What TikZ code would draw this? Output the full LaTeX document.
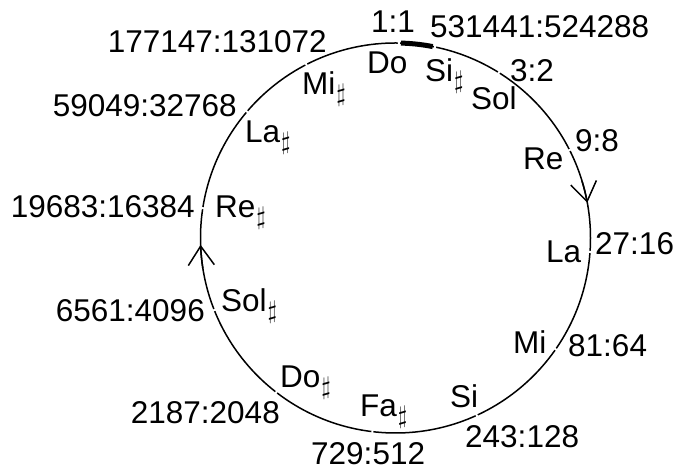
\documentclass[tikz,border=0pt]{standalone}
\usepackage{fontspec}
\setmainfont{Liberation Sans}
\usetikzlibrary{arrows.meta,calc}
\newcommand\shp{\kern1pt\raisebox{-6.5pt}{\fontsize{24}{24}\selectfont$\sharp$}}
\begin{document}
\begin{tikzpicture}[x=1pt,y=1pt,
  lab/.style={inner sep=0pt, font=\fontsize{31.5}{36}\selectfont},
  lw/.style={lab, anchor=base west},
  le/.style={lab, anchor=base east},
  ring/.style={line width=1.5pt, black},
  gapmark/.style={white, line width=2pt},
  comma/.style={line width=5pt, black},
  dir/.style={line width=1.5pt, -{Straight Barb[length=19pt,width=26pt,line width=1.5pt]}}]
\useasboundingbox (0,0) rectangle (678,470);
\coordinate (c) at (395.5,232);
% circle
\draw[ring] (c) circle[radius=195];
% Pythagorean comma
\draw[comma] ($(c)+(88.4:195)$) arc[start angle=88.4, end angle=79.0, radius=195];
% gaps at the notes
\foreach \a/\n in {89.0/do,78.3/sis,58.0/sol,26.8/re,-4.1/la,-34.8/mi,-65.4/si,-96.8/fas,-127.7/dos,-158.3/sols,171.2/res,139.6/las,117.2/mis}{
  \coordinate (g-\n) at ($(c)+(\a:195)$);
  \draw[gapmark] ($(c)+(\a:190)$) -- ($(c)+(\a:200)$);
}
% direction arrows
\draw[dir] ($(c)+(17:195)$) arc[start angle=17, end angle=10.4, radius=195];
\draw[dir] ($(c)+(189:195)$) arc[start angle=189, end angle=182, radius=195];
% labels
\node[lw] (r1) at (371,437) {1:1};
\node[lw] (r2) at (430,432) {531441:524288};
\node[lw] (l1) at (367,396) {Do};
\node[lw] (l2) at (425,388) {Si\shp};
\node[lw] (r3) at (510,388) {3:2};
\node[lw] (l3) at (471,360) {Sol};
\node[lw] (r4) at (575,318) {9:8};
\node[lw] (l4) at (523,300) {Re};
\node[lw] (r5) at (595,215) {27:16};
\node[lw] (l5) at (546,207) {La};
\node[lw] (l6) at (513,116) {Mi};
\node[lw] (r6) at (568,113) {81:64};
\node[lw] (l7) at (450,62) {Si};
\node[lw] (r7) at (465,22) {243:128};
\node[lw] (r8) at (311,5.5) {729:512};
\node[lw] (l8) at (360,53) {Fa\shp};
\node[lw] (l9) at (280,82) {Do\shp};
\node[le] (r9) at (280,46) {2187:2048};
\node[lw] (l10) at (221,158) {Sol\shp};
\node[le] (r10) at (205,148) {6561:4096};
\node[lw] (l11) at (215,252) {Re\shp};
\node[le] (r11) at (195,252) {19683:16384};
\node[lw] (l12) at (245,327) {La\shp};
\node[le] (r12) at (237,353) {59049:32768};
\node[le] (r13) at (327,417) {177147:131072};
\node[lw] (l13) at (302,375) {Mi\shp};
\end{tikzpicture}
\end{document}
